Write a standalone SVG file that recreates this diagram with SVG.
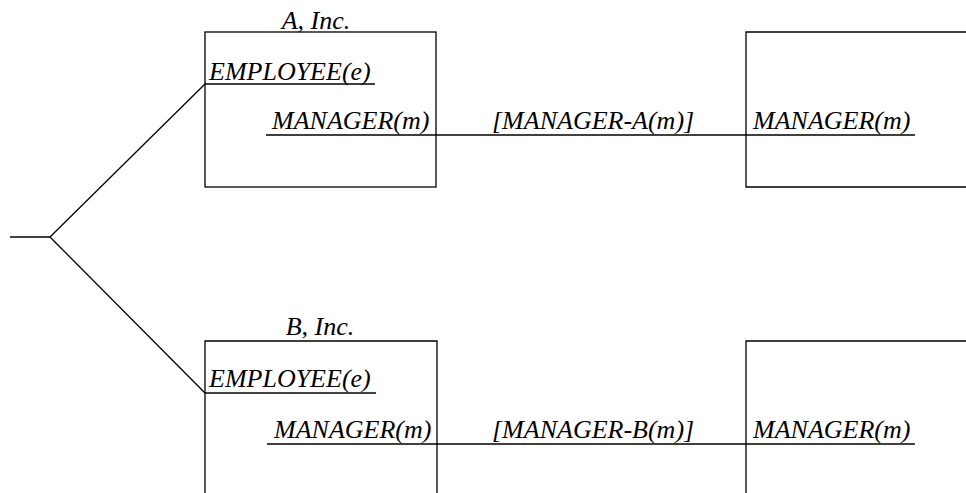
<svg xmlns="http://www.w3.org/2000/svg" width="966" height="493" viewBox="0 0 966 493">
<style>
.box{fill:none;stroke:#000;stroke-width:1.3}
.ln{fill:none;stroke:#000;stroke-width:1.3}
.t{font-family:'Liberation Serif','Times New Roman',Times,serif;font-style:italic;font-size:26px;fill:#000}
</style>
<rect width="966" height="493" fill="#fff"/>
<g id="connectors">
<line class="ln" x1="10" y1="237" x2="50" y2="237"/>
<line class="ln" x1="50" y1="237" x2="205" y2="84"/>
<line class="ln" x1="50" y1="237" x2="205" y2="393"/>
<line class="ln" x1="266" y1="135" x2="915" y2="135"/>
<line class="ln" x1="267" y1="444" x2="915" y2="444"/>
<text class="t" x="492" y="129">[MANAGER-A(m)]</text>
<text class="t" x="492" y="438">[MANAGER-B(m)]</text>
</g>
<g id="nodeA">
<rect class="box" x="205" y="32" width="231" height="155"/>
<text class="t" x="316" y="29" text-anchor="middle">A, Inc.</text>
<text class="t" x="209" y="80">EMPLOYEE(e)</text>
<line class="ln" x1="205" y1="84" x2="375" y2="84"/>
<text class="t" x="272" y="129">MANAGER(m)</text>
</g>
<g id="nodeA2">
<path class="box" d="M970 32 H746 V187 H970"/>
<text class="t" x="753" y="129">MANAGER(m)</text>
</g>
<g id="nodeB">
<path class="box" d="M205 500 V341 H437 V500"/>
<text class="t" x="320" y="335" text-anchor="middle">B, Inc.</text>
<text class="t" x="209" y="387">EMPLOYEE(e)</text>
<line class="ln" x1="205" y1="393" x2="376" y2="393"/>
<text class="t" x="274" y="438">MANAGER(m)</text>
</g>
<g id="nodeB2">
<path class="box" d="M970 341 H746 V500"/>
<text class="t" x="753" y="438">MANAGER(m)</text>
</g>
</svg>
